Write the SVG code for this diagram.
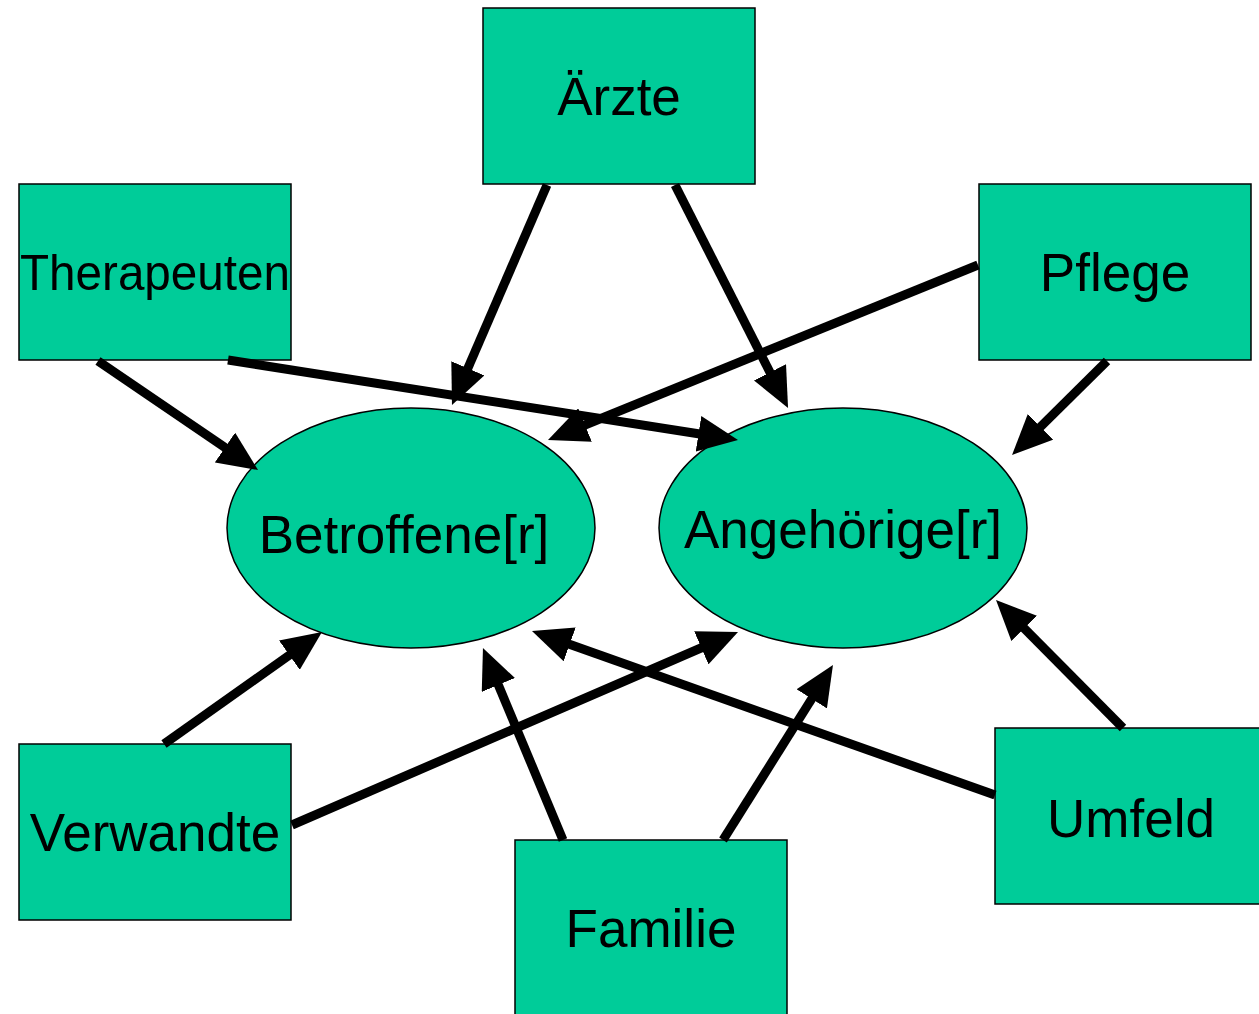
<svg xmlns="http://www.w3.org/2000/svg" width="1259" height="1014" viewBox="0 0 1259 1014">
<style>
.box{fill:#00CC99;stroke:#000;stroke-width:1.5}
.lbl{font-family:"Liberation Sans",Arial,sans-serif;font-size:53px;fill:#000;text-anchor:middle}
.con{stroke:#000;stroke-width:9;fill:none;marker-end:url(#ah)}
</style>
<defs>
<marker id="ah" markerUnits="userSpaceOnUse" markerWidth="40" markerHeight="36" refX="16" refY="18" orient="auto" viewBox="0 0 40 36">
<path d="M0,0 L40,18 L0,36 z" fill="#000"/>
</marker>
</defs>
<rect width="1259" height="1014" fill="#fff"/>
<g id="aerzte"><rect class="box" x="483" y="8" width="272" height="176"/><text class="lbl" x="619" y="115">Ärzte</text></g>
<g id="therapeuten"><rect class="box" x="19" y="184" width="272" height="176"/><text class="lbl" x="155" y="290" style="font-size:50px" textLength="270" lengthAdjust="spacingAndGlyphs">Therapeuten</text></g>
<g id="pflege"><rect class="box" x="979" y="184" width="272" height="176"/><text class="lbl" x="1115" y="291">Pflege</text></g>
<g id="verwandte"><rect class="box" x="19" y="744" width="272" height="176"/><text class="lbl" x="155" y="851">Verwandte</text></g>
<g id="familie"><rect class="box" x="515" y="840" width="272" height="180"/><text class="lbl" x="651" y="947">Familie</text></g>
<g id="umfeld"><rect class="box" x="995" y="728" width="270" height="176"/><text class="lbl" x="1131" y="837">Umfeld</text></g>
<g id="betroffene"><ellipse class="box" cx="411" cy="528" rx="184" ry="120"/><text class="lbl" x="404" y="553">Betroffene[r]</text></g>
<g id="angehoerige"><ellipse class="box" cx="843" cy="528" rx="184" ry="120"/><text class="lbl" x="843" y="548">Angehörige[r]</text></g>
<g id="connectors">
<line class="con" x1="547" y1="185" x2="461.5" y2="383"/>
<line class="con" x1="675" y1="185" x2="777.2" y2="386.6"/>
<line class="con" x1="978" y1="265" x2="570.2" y2="431"/>
<line class="con" x1="1107" y1="361" x2="1029.1" y2="438.1"/>
<line class="con" x1="98" y1="361" x2="238.2" y2="456.5"/>
<line class="con" x1="228" y1="360" x2="714.3" y2="436.3"/>
<line class="con" x1="164" y1="744" x2="302.4" y2="645.9"/>
<line class="con" x1="292" y1="825" x2="716" y2="641.5"/>
<line class="con" x1="563" y1="840" x2="492.2" y2="670.2"/>
<line class="con" x1="723" y1="840" x2="820.2" y2="685.3"/>
<line class="con" x1="995" y1="795" x2="554.6" y2="639"/>
<line class="con" x1="1123" y1="728" x2="1012.9" y2="617"/>
</g>
</svg>
